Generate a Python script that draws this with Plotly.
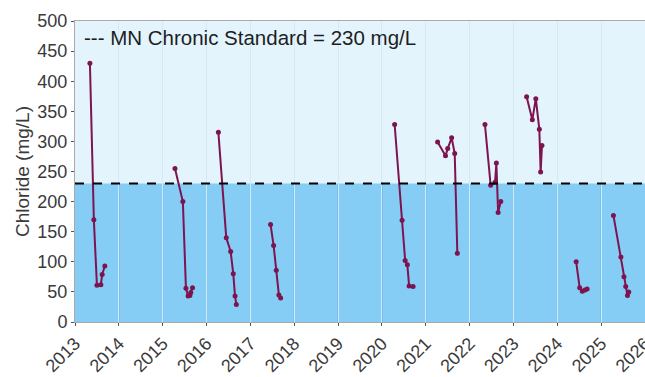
import plotly.graph_objects as go

# Sampling seasons (decimal year) and chloride values (mg/L)
years_2013 = [2013.34, 2013.43, 2013.50, 2013.59, 2013.62, 2013.68]
vals_2013 = [430, 170, 61, 62, 79, 93]
years_2015 = [2015.28, 2015.46, 2015.53, 2015.58, 2015.62, 2015.64, 2015.68]
vals_2015 = [255, 200, 56, 43, 44, 49, 57]
years_2016 = [2016.27, 2016.45, 2016.55, 2016.61, 2016.65, 2016.68]
vals_2016 = [315, 140, 117, 80, 43, 29]
years_2017 = [2017.46, 2017.53, 2017.59, 2017.65, 2017.69]
vals_2017 = [162, 127, 86, 45, 40]
years_2020 = [2020.29, 2020.46, 2020.53, 2020.58, 2020.62, 2020.71]
vals_2020 = [328, 169, 102, 95, 60, 59]
years_2021 = [2021.27, 2021.45, 2021.50, 2021.59, 2021.66, 2021.72]
vals_2021 = [299, 276, 288, 306, 280, 114]
years_2022 = [2022.35, 2022.48, 2022.58, 2022.61, 2022.65, 2022.71]
vals_2022 = [328, 227, 232, 264, 182, 200]
years_2023 = [2023.30, 2023.43, 2023.51, 2023.59, 2023.62, 2023.65]
vals_2023 = [374, 336, 371, 320, 249, 293]
years_2024 = [2024.43, 2024.51, 2024.57, 2024.63, 2024.68]
vals_2024 = [100, 57, 51, 53, 55]
years_2025 = [2025.28, 2025.45, 2025.52, 2025.56, 2025.60, 2025.63]
vals_2025 = [177, 108, 75, 59, 44, 50]

standard = 230
tick_years = list(range(2013, 2027))
tick_labels = [str(y) for y in tick_years]
y_ticks = list(range(0, 501, 50))

groups = [
    (years_2013, vals_2013), (years_2015, vals_2015), (years_2016, vals_2016),
    (years_2017, vals_2017), (years_2020, vals_2020), (years_2021, vals_2021),
    (years_2022, vals_2022), (years_2023, vals_2023), (years_2024, vals_2024),
    (years_2025, vals_2025),
]

LINE_COLOR = "#7d1450"
fig = go.Figure()
for xs, ys in groups:
    fig.add_trace(go.Scatter(
        x=xs, y=ys, mode="lines+markers",
        line=dict(color=LINE_COLOR, width=2),
        marker=dict(color=LINE_COLOR, size=5),
        showlegend=False, hoverinfo="x+y",
    ))

x0, x1 = tick_years[0], tick_years[-1]
shapes = [
    dict(type="rect", xref="x", yref="y", x0=x0, x1=x1, y0=0, y1=standard,
         fillcolor="#86cdf5", line=dict(width=0), layer="below"),
]
for yr in tick_years[1:-1]:
    shapes.append(dict(type="line", xref="x", yref="y", x0=yr, x1=yr, y0=0, y1=standard,
                       line=dict(color="#5fb0e0", width=1), layer="below"))
shapes.append(dict(type="line", xref="x", yref="y", x0=x0, x1=x1, y0=standard, y1=standard,
                   line=dict(color="black", width=2, dash="dash")))

fig.update_layout(
    width=645, height=377,
    margin=dict(l=75, r=0, t=21, b=55),
    paper_bgcolor="white",
    plot_bgcolor="#e4f4fd",
    font=dict(family="Liberation Sans, Arial, sans-serif", size=18, color="#3a3a3a"),
    shapes=shapes,
    annotations=[dict(
        text="--- MN Chronic Standard = 230 mg/L", xref="paper", yref="paper",
        x=0.012, y=0.99, xanchor="left", yanchor="top", showarrow=False,
        font=dict(size=20.5, color="#1e1e1e"),
    )],
    xaxis=dict(
        range=[x0, x1], tickvals=tick_years, ticktext=tick_labels, tickangle=-45,
        showgrid=True, gridcolor="#d3e9f5", gridwidth=1, zeroline=False,
        ticks="outside", ticklen=3, tickcolor="#555555",
        showline=True, linecolor="#aaaaaa", mirror=True,
        tickfont=dict(size=18), ticklabeloverflow="allow", automargin=False,
    ),
    yaxis=dict(
        range=[0, 500], tickvals=y_ticks, showgrid=False, zeroline=False,
        ticks="outside", ticklen=3, tickcolor="#555555",
        showline=True, linecolor="#aaaaaa", automargin=False,
        tickfont=dict(size=18),
        title=dict(text="Chloride (mg/L)", standoff=2, font=dict(size=19)),
    ),
)

fig.write_html("out.html")
